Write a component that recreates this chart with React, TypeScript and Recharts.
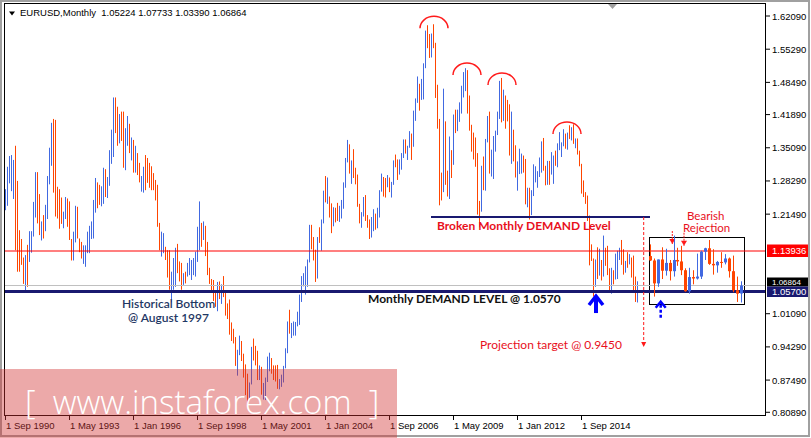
import React from "react";
import {
  ComposedChart,
  Bar,
  XAxis,
  YAxis,
  ReferenceLine,
  ReferenceArea,
  ReferenceDot,
} from "recharts";

// monthly EURUSD bars: [open, high, low, close]
type Ohlc = [number, number, number, number];

const bars1990: Ohlc[] = [
  [1.228, 1.266, 1.223, 1.258], [1.258, 1.312, 1.232, 1.3], [1.29, 1.334, 1.278, 1.325], [1.3, 1.336, 1.262, 1.32],
];
const bars1991: Ohlc[] = [
  [1.26, 1.326, 1.246, 1.318], [1.32, 1.355, 1.141, 1.15], [1.25, 1.283, 1.097, 1.11], [1.17, 1.182, 1.097, 1.11],
  [1.16, 1.164, 1.111, 1.12], [1.12, 1.126, 1.072, 1.08], [1.07, 1.131, 1.059, 1.12], [1.14, 1.152, 1.066, 1.08],
  [1.12, 1.18, 1.117, 1.17], [1.14, 1.18, 1.136, 1.17], [1.175, 1.24, 1.169, 1.23], [1.215, 1.301, 1.208, 1.295],
];
const bars1992: Ohlc[] = [
  [1.295, 1.301, 1.196, 1.205], [1.25, 1.256, 1.172, 1.18], [1.165, 1.2, 1.161, 1.195], [1.205, 1.213, 1.165, 1.172],
  [1.182, 1.234, 1.18, 1.228], [1.21, 1.293, 1.205, 1.285], [1.28, 1.351, 1.276, 1.345], [1.32, 1.402, 1.314, 1.395],
  [1.395, 1.41, 1.259, 1.27], [1.39, 1.408, 1.21, 1.22], [1.265, 1.271, 1.206, 1.215], [1.26, 1.266, 1.185, 1.195],
];
const bars1993: Ohlc[] = [
  [1.24, 1.249, 1.195, 1.2], [1.19, 1.22, 1.186, 1.215], [1.21, 1.25, 1.205, 1.245], [1.24, 1.247, 1.189, 1.195],
  [1.235, 1.241, 1.162, 1.17], [1.16, 1.164, 1.12, 1.125], [1.125, 1.179, 1.12, 1.172], [1.165, 1.232, 1.157, 1.225],
  [1.225, 1.23, 1.165, 1.172], [1.162, 1.165, 1.137, 1.14], [1.155, 1.158, 1.124, 1.128], [1.118, 1.151, 1.113, 1.145],
];
const bars1994: Ohlc[] = [
  [1.112, 1.151, 1.107, 1.146], [1.138, 1.179, 1.135, 1.174], [1.14, 1.191, 1.135, 1.186], [1.168, 1.2, 1.164, 1.196],
  [1.17, 1.244, 1.165, 1.238], [1.222, 1.289, 1.218, 1.284], [1.276, 1.28, 1.227, 1.232], [1.27, 1.275, 1.234, 1.24],
  [1.236, 1.272, 1.231, 1.266], [1.262, 1.31, 1.236, 1.3], [1.3, 1.307, 1.25, 1.258], [1.252, 1.291, 1.248, 1.285],
];
const bars1995: Ohlc[] = [
  [1.28, 1.346, 1.273, 1.34], [1.335, 1.388, 1.318, 1.38], [1.38, 1.454, 1.332, 1.44], [1.44, 1.454, 1.381, 1.395],
  [1.425, 1.435, 1.355, 1.365], [1.365, 1.42, 1.36, 1.41], [1.415, 1.425, 1.365, 1.38], [1.415, 1.425, 1.31, 1.32],
  [1.315, 1.391, 1.305, 1.38], [1.365, 1.416, 1.355, 1.405], [1.395, 1.4, 1.34, 1.35], [1.33, 1.372, 1.325, 1.365],
];
const bars1996: Ohlc[] = [
  [1.36, 1.367, 1.3, 1.31], [1.305, 1.355, 1.3, 1.345], [1.335, 1.34, 1.295, 1.3], [1.315, 1.32, 1.28, 1.285],
  [1.265, 1.293, 1.261, 1.288], [1.262, 1.312, 1.259, 1.305], [1.33, 1.336, 1.264, 1.272], [1.325, 1.33, 1.279, 1.285],
  [1.315, 1.32, 1.269, 1.275], [1.31, 1.313, 1.264, 1.27], [1.295, 1.299, 1.264, 1.268], [1.28, 1.285, 1.243, 1.248],
];
const bars1997: Ohlc[] = [
  [1.27, 1.275, 1.189, 1.195], [1.192, 1.197, 1.141, 1.146], [1.14, 1.179, 1.128, 1.172], [1.14, 1.176, 1.135, 1.17],
  [1.145, 1.148, 1.121, 1.125], [1.135, 1.141, 1.085, 1.09], [1.135, 1.141, 1.06, 1.066], [1.06, 1.097, 1.034, 1.09],
  [1.066, 1.125, 1.06, 1.118], [1.072, 1.146, 1.066, 1.14], [1.15, 1.154, 1.094, 1.1], [1.115, 1.118, 1.077, 1.082],
];
const bars1998: Ohlc[] = [
  [1.11, 1.115, 1.06, 1.066], [1.072, 1.094, 1.07, 1.09], [1.095, 1.097, 1.073, 1.076], [1.089, 1.115, 1.087, 1.11],
  [1.092, 1.125, 1.09, 1.12], [1.083, 1.121, 1.08, 1.116], [1.092, 1.125, 1.09, 1.12], [1.09, 1.138, 1.087, 1.133],
  [1.12, 1.189, 1.117, 1.182], [1.146, 1.241, 1.141, 1.23], [1.195, 1.197, 1.148, 1.152], [1.165, 1.2, 1.162, 1.195],
];
const bars1999: Ohlc[] = [
  [1.174, 1.191, 1.129, 1.158], [1.158, 1.158, 1.09, 1.098], [1.098, 1.105, 1.072, 1.078], [1.078, 1.082, 1.054, 1.058],
  [1.058, 1.08, 1.037, 1.042], [1.042, 1.054, 1.025, 1.035], [1.035, 1.076, 1.016, 1.069], [1.069, 1.077, 1.041, 1.06],
  [1.06, 1.071, 1.031, 1.068], [1.068, 1.088, 1.045, 1.056], [1.056, 1.058, 1.007, 1.01], [1.01, 1.032, 1.0, 1.007],
];
const bars2000: Ohlc[] = [
  [1.007, 1.04, 0.968, 0.971], [0.971, 0.993, 0.955, 0.962], [0.962, 0.98, 0.95, 0.958], [0.958, 0.963, 0.904, 0.912],
  [0.912, 0.937, 0.884, 0.933], [0.933, 0.966, 0.926, 0.953], [0.953, 0.955, 0.914, 0.922], [0.922, 0.929, 0.88, 0.887],
  [0.887, 0.907, 0.844, 0.883], [0.883, 0.888, 0.823, 0.85], [0.85, 0.87, 0.838, 0.868], [0.868, 0.943, 0.866, 0.94],
];
const bars2001: Ohlc[] = [
  [0.94, 0.96, 0.915, 0.935], [0.935, 0.945, 0.905, 0.922], [0.922, 0.935, 0.875, 0.878], [0.878, 0.905, 0.875, 0.888],
  [0.888, 0.902, 0.845, 0.846], [0.846, 0.869, 0.835, 0.849], [0.849, 0.88, 0.834, 0.877], [0.877, 0.923, 0.871, 0.911],
  [0.911, 0.931, 0.893, 0.913], [0.913, 0.92, 0.888, 0.902], [0.902, 0.905, 0.875, 0.891], [0.891, 0.905, 0.872, 0.89],
];
const bars2002: Ohlc[] = [
  [0.89, 0.906, 0.857, 0.86], [0.86, 0.877, 0.856, 0.87], [0.87, 0.886, 0.861, 0.872], [0.872, 0.904, 0.87, 0.902],
  [0.902, 0.94, 0.899, 0.934], [0.934, 0.995, 0.93, 0.992], [0.992, 1.019, 0.97, 0.98], [0.98, 0.992, 0.961, 0.982],
  [0.982, 0.995, 0.966, 0.987], [0.987, 0.994, 0.966, 0.988], [0.988, 1.015, 0.985, 0.992], [0.992, 1.05, 0.988, 1.049],
];
const bars2003: Ohlc[] = [
  [1.049, 1.088, 1.035, 1.073], [1.073, 1.094, 1.067, 1.079], [1.079, 1.108, 1.05, 1.091], [1.091, 1.122, 1.066, 1.117],
  [1.117, 1.193, 1.116, 1.18], [1.18, 1.193, 1.143, 1.149], [1.149, 1.168, 1.12, 1.124], [1.124, 1.142, 1.076, 1.098],
  [1.098, 1.168, 1.083, 1.165], [1.165, 1.188, 1.156, 1.16], [1.16, 1.204, 1.14, 1.199], [1.199, 1.263, 1.196, 1.259],
];
const bars2004: Ohlc[] = [
  [1.259, 1.293, 1.239, 1.246], [1.246, 1.29, 1.236, 1.247], [1.247, 1.251, 1.208, 1.231], [1.231, 1.237, 1.176, 1.197],
  [1.197, 1.229, 1.19, 1.219], [1.219, 1.228, 1.198, 1.216], [1.216, 1.238, 1.201, 1.202], [1.202, 1.232, 1.199, 1.217],
  [1.217, 1.244, 1.206, 1.242], [1.242, 1.28, 1.226, 1.277], [1.277, 1.33, 1.269, 1.329], [1.329, 1.367, 1.321, 1.356],
];
const bars2005: Ohlc[] = [
  [1.356, 1.358, 1.298, 1.304], [1.304, 1.325, 1.277, 1.325], [1.325, 1.348, 1.289, 1.296], [1.296, 1.31, 1.276, 1.286],
  [1.286, 1.296, 1.23, 1.231], [1.231, 1.236, 1.196, 1.21], [1.21, 1.219, 1.187, 1.212], [1.212, 1.25, 1.21, 1.233],
  [1.233, 1.254, 1.201, 1.203], [1.203, 1.213, 1.187, 1.199], [1.199, 1.204, 1.164, 1.179], [1.179, 1.209, 1.167, 1.184],
];
const bars2006: Ohlc[] = [
  [1.184, 1.225, 1.18, 1.216], [1.216, 1.216, 1.183, 1.192], [1.192, 1.228, 1.186, 1.211], [1.211, 1.264, 1.208, 1.262],
  [1.262, 1.298, 1.261, 1.282], [1.282, 1.291, 1.251, 1.279], [1.279, 1.289, 1.249, 1.276], [1.276, 1.295, 1.27, 1.281],
  [1.281, 1.29, 1.26, 1.268], [1.268, 1.281, 1.249, 1.276], [1.276, 1.325, 1.275, 1.324], [1.324, 1.337, 1.311, 1.32],
];
const bars2007: Ohlc[] = [
  [1.32, 1.327, 1.285, 1.302], [1.302, 1.327, 1.296, 1.323], [1.323, 1.34, 1.306, 1.336], [1.336, 1.368, 1.33, 1.365],
  [1.365, 1.368, 1.339, 1.345], [1.345, 1.355, 1.326, 1.353], [1.353, 1.385, 1.351, 1.368], [1.368, 1.38, 1.326, 1.363],
  [1.363, 1.427, 1.353, 1.426], [1.426, 1.452, 1.406, 1.449], [1.449, 1.497, 1.443, 1.463], [1.463, 1.482, 1.427, 1.459],
];
const bars2008: Ohlc[] = [
  [1.459, 1.492, 1.449, 1.486], [1.486, 1.524, 1.45, 1.518], [1.518, 1.591, 1.514, 1.579], [1.579, 1.602, 1.555, 1.56],
  [1.56, 1.584, 1.535, 1.554], [1.554, 1.585, 1.536, 1.576], [1.576, 1.604, 1.555, 1.561], [1.561, 1.566, 1.453, 1.467],
  [1.467, 1.48, 1.39, 1.408], [1.408, 1.41, 1.233, 1.273], [1.273, 1.3, 1.243, 1.27], [1.27, 1.472, 1.26, 1.397],
];
const bars2009: Ohlc[] = [
  [1.397, 1.405, 1.275, 1.28], [1.28, 1.304, 1.251, 1.266], [1.266, 1.374, 1.246, 1.325], [1.325, 1.346, 1.289, 1.323],
  [1.323, 1.419, 1.316, 1.415], [1.415, 1.429, 1.381, 1.403], [1.403, 1.429, 1.385, 1.425], [1.425, 1.444, 1.404, 1.433],
  [1.433, 1.478, 1.421, 1.464], [1.464, 1.506, 1.454, 1.472], [1.472, 1.514, 1.467, 1.5], [1.5, 1.51, 1.421, 1.433],
];
const bars2010: Ohlc[] = [
  [1.433, 1.458, 1.386, 1.386], [1.386, 1.398, 1.343, 1.363], [1.363, 1.382, 1.327, 1.351], [1.351, 1.372, 1.312, 1.329],
  [1.329, 1.34, 1.214, 1.227], [1.227, 1.242, 1.188, 1.223], [1.223, 1.314, 1.22, 1.305], [1.305, 1.333, 1.264, 1.269],
  [1.269, 1.369, 1.263, 1.362], [1.362, 1.416, 1.362, 1.393], [1.393, 1.425, 1.298, 1.3], [1.3, 1.347, 1.292, 1.338],
];
const bars2011: Ohlc[] = [
  [1.338, 1.375, 1.287, 1.369], [1.369, 1.386, 1.343, 1.38], [1.38, 1.425, 1.377, 1.416], [1.416, 1.488, 1.41, 1.481],
  [1.481, 1.494, 1.403, 1.439], [1.439, 1.47, 1.406, 1.45], [1.45, 1.458, 1.39, 1.439], [1.439, 1.449, 1.405, 1.438],
  [1.438, 1.44, 1.335, 1.339], [1.339, 1.425, 1.318, 1.387], [1.387, 1.388, 1.323, 1.345], [1.345, 1.356, 1.29, 1.297],
];
const bars2012: Ohlc[] = [
  [1.297, 1.323, 1.263, 1.309], [1.309, 1.349, 1.297, 1.333], [1.333, 1.339, 1.298, 1.334], [1.334, 1.335, 1.3, 1.324],
  [1.324, 1.328, 1.235, 1.237], [1.237, 1.269, 1.229, 1.266], [1.266, 1.269, 1.204, 1.23], [1.23, 1.264, 1.213, 1.257],
  [1.257, 1.317, 1.252, 1.286], [1.286, 1.313, 1.28, 1.296], [1.296, 1.303, 1.269, 1.299], [1.299, 1.331, 1.291, 1.319],
];
const bars2013: Ohlc[] = [
  [1.319, 1.364, 1.3, 1.358], [1.358, 1.371, 1.304, 1.307], [1.307, 1.314, 1.274, 1.282], [1.282, 1.324, 1.275, 1.316],
  [1.316, 1.324, 1.275, 1.299], [1.299, 1.342, 1.296, 1.301], [1.301, 1.335, 1.277, 1.33], [1.33, 1.345, 1.314, 1.322],
  [1.322, 1.36, 1.311, 1.352], [1.352, 1.383, 1.346, 1.358], [1.358, 1.362, 1.332, 1.359], [1.359, 1.389, 1.354, 1.378],
];
const bars2014: Ohlc[] = [
  [1.378, 1.38, 1.349, 1.349], [1.349, 1.382, 1.347, 1.38], [1.38, 1.397, 1.369, 1.377], [1.377, 1.393, 1.366, 1.387],
  [1.387, 1.399, 1.359, 1.363], [1.363, 1.37, 1.35, 1.369], [1.369, 1.37, 1.337, 1.339], [1.339, 1.345, 1.313, 1.313],
  [1.313, 1.318, 1.257, 1.263], [1.263, 1.284, 1.25, 1.252], [1.252, 1.26, 1.236, 1.245], [1.245, 1.253, 1.201, 1.21],
];
const bars2015: Ohlc[] = [
  [1.21, 1.212, 1.11, 1.129], [1.129, 1.153, 1.119, 1.12], [1.12, 1.124, 1.046, 1.073], [1.073, 1.122, 1.066, 1.122],
  [1.122, 1.147, 1.082, 1.099], [1.099, 1.144, 1.089, 1.115], [1.115, 1.121, 1.079, 1.098], [1.098, 1.171, 1.087, 1.121],
  [1.121, 1.146, 1.109, 1.118], [1.118, 1.15, 1.09, 1.1], [1.1, 1.104, 1.056, 1.057], [1.057, 1.105, 1.052, 1.086],
];
const bars2016: Ohlc[] = [
  [1.086, 1.1, 1.071, 1.083], [1.083, 1.134, 1.081, 1.087], [1.087, 1.14, 1.082, 1.138], [1.138, 1.146, 1.121, 1.145],
  [1.145, 1.162, 1.111, 1.113], [1.113, 1.143, 1.091, 1.11], [1.11, 1.119, 1.095, 1.117], [1.117, 1.137, 1.105, 1.116],
  [1.116, 1.133, 1.112, 1.124], [1.124, 1.126, 1.085, 1.098], [1.098, 1.13, 1.055, 1.059], [1.059, 1.087, 1.035, 1.052],
];
const bars2017: Ohlc[] = [[1.05224, 1.07733, 1.0339, 1.06864]];

const yearBlocks = [
  bars1990, bars1991, bars1992, bars1993, bars1994, bars1995, bars1996, bars1997, bars1998, bars1999,
  bars2000, bars2001, bars2002, bars2003, bars2004, bars2005, bars2006, bars2007, bars2008, bars2009,
  bars2010, bars2011, bars2012, bars2013, bars2014, bars2015, bars2016, bars2017,
];

const MONTHS = ["Jan", "Feb", "Mar", "Apr", "May", "Jun", "Jul", "Aug", "Sep", "Oct", "Nov", "Dec"];
const FIRST_YEAR = 1990;
const FIRST_MONTH = 8; // Sep

const timeTicks = [0, 32, 64, 96, 128, 160, 192, 224, 256, 288];
// 1.14690 and 1.07890 sit under the price tags, so they are left out
const priceTicks = [1.6209, 1.5529, 1.4849, 1.4189, 1.3509, 1.2829, 1.2149, 1.0109, 0.9429, 0.8749, 0.8089];

const resistance = 1.13936;
const bidPrice = 1.06864;
const demandLevel = 1.057;
const brokenDemand = 1.209;
const projection = 0.945;
const boxTop = 1.1674;
const boxBottom = 1.0302;

// annotation anchors in (month index, price)
const peakArcs = [
  { i: 214.5, p: 1.5957 },
  { i: 231, p: 1.4999 },
  { i: 248.5, p: 1.4795 },
  { i: 281, p: 1.3791 },
];

const W = 811;
const H = 438;
const PRICE_MIN = 0.8013;
const PRICE_MAX = 1.6455;
const X_MAX = 380.5;
const UP = "#4169e1";
const DOWN = "#ff4500";
const MT_FONT = "'Liberation Sans', Arial, sans-serif";
const NOTE_FONT = "Lato, 'Open Sans', sans-serif";

const allBars: Ohlc[] = yearBlocks.flat();
const rows = allBars.map(([o, h, l, c], i) => ({ i, o, h, l, c, range: [l, h] }));
const insetRows = allBars.slice(-24).map(([o, h, l, c], k) => ({ k, o, h, l, c, range: [l, h] }));

const monthLabel = (i: number) => {
  const m = FIRST_MONTH + i;
  return `1 ${MONTHS[m % 12]} ${FIRST_YEAR + Math.floor(m / 12)}`;
};

const Stick = (props: any) => {
  const { x, y, width, height, payload } = props;
  if (x == null || y == null) return null;
  const top = Math.min(y, y + height);
  const span = Math.max(Math.abs(height), 1);
  const cx = Math.round(x + width / 2);
  return <rect x={cx} y={top} width={1} height={span} fill={payload.c >= payload.o ? UP : DOWN} />;
};

const Candle = (props: any) => {
  const { x, y, width, height, payload } = props;
  if (x == null || y == null) return null;
  const top = Math.min(y, y + height);
  const span = Math.max(Math.abs(height), 1);
  const { o, h, l, c } = payload;
  const toPx = (v: number) => top + ((h - v) / (h - l)) * span;
  const cx = Math.round(x + width / 2);
  const col = c >= o ? UP : DOWN;
  const bTop = toPx(Math.max(o, c));
  const bBot = toPx(Math.min(o, c));
  return (
    <g>
      <rect x={cx} y={top} width={1} height={span} fill={col} />
      <rect x={cx - 1} y={bTop} width={3} height={Math.max(bBot - bTop, 1)} fill={col} />
    </g>
  );
};

const TimeTick = (props: any) => {
  const { x, payload } = props;
  return (
    <g>
      <line x1={x + 0.5} x2={x + 0.5} y1={416} y2={420} stroke="#000" />
      <text x={x + 1} y={429} fontSize={9.5} fontFamily={MT_FONT} fill="#000">
        {monthLabel(payload.value)}
      </text>
    </g>
  );
};

const PriceTick = (props: any) => {
  const { y, payload } = props;
  return (
    <g>
      <line x1={766} x2={770} y1={y} y2={y} stroke="#000" />
      <text x={772} y={y + 3.5} fontSize={9.5} fontFamily={MT_FONT} fill="#000">
        {payload.value.toFixed(5)}
      </text>
    </g>
  );
};

const Arc = (p: any) => (
  <path d={`M${p.cx - 14},${p.cy} A14,12 0 0 1 ${p.cx + 14},${p.cy}`} fill="none" stroke="#ff1a1a" strokeWidth={1.5} />
);

const BlueArrow = (p: any) => (
  <g>
    <line x1={p.cx} x2={p.cx} y1={p.cy + 4} y2={p.cy + 19} stroke="#0000ff" strokeWidth={4} />
    <polyline points={`${p.cx - 7},${p.cy + 11} ${p.cx},${p.cy + 2} ${p.cx + 7},${p.cy + 11}`} fill="none" stroke="#0000ff" strokeWidth={3.5} />
  </g>
);

const DashedArrow = (p: any) => (
  <g>
    <line x1={p.cx} x2={p.cx} y1={p.cy + 4} y2={p.cy + 17} stroke="#0000ff" strokeWidth={2.5} strokeDasharray="3 2" />
    <polyline points={`${p.cx - 5},${p.cy + 7} ${p.cx},${p.cy + 1} ${p.cx + 5},${p.cy + 7}`} fill="none" stroke="#0000ff" strokeWidth={2.5} />
  </g>
);

const RedDownArrow = (p: any) => (
  <g>
    <line x1={p.cx} x2={p.cx} y1={p.cy - 13} y2={p.cy} stroke="#ff1a1a" strokeWidth={1} strokeDasharray="2 1" />
    <polygon points={`${p.cx - 3},${p.cy - 5} ${p.cx + 3},${p.cy - 5} ${p.cx},${p.cy}`} fill="#ff1a1a" />
  </g>
);

const ArrowTip = (p: any) => (
  <polygon points={`${p.cx - 2.5},${p.cy - 5} ${p.cx + 2.5},${p.cy - 5} ${p.cx},${p.cy}`} fill="#ff1a1a" />
);

export default function App() {
  return (
    <div style={{ position: "absolute", left: 0, top: 0, width: W, height: H, background: "#fff", overflow: "hidden" }}>
      <div style={{ position: "absolute", left: 0, top: 0 }}>
        <ComposedChart width={W} height={H} data={rows} margin={{ top: 4, right: 0, bottom: 0, left: 5 }}>
          <XAxis
            type="number"
            dataKey="i"
            domain={[0, X_MAX]}
            ticks={timeTicks}
            interval={0}
            height={22}
            axisLine={false}
            tickLine={false}
            tick={TimeTick}
            allowDataOverflow
          />
          <YAxis
            orientation="right"
            type="number"
            domain={[PRICE_MIN, PRICE_MAX]}
            ticks={priceTicks}
            interval={0}
            width={45}
            axisLine={false}
            tickLine={false}
            tick={PriceTick}
            allowDataOverflow
          />
          <Bar dataKey="range" barSize={1} shape={Stick} isAnimationActive={false} />
          <ReferenceLine y={resistance} stroke="#ff0000" strokeWidth={1.2} />
          <ReferenceLine y={bidPrice} stroke="#c0c0c0" strokeWidth={1} shapeRendering="crispEdges" />
          <ReferenceLine y={demandLevel} stroke="#191970" strokeWidth={3} shapeRendering="crispEdges" />
          <ReferenceLine
            segment={[{ x: 213, y: brokenDemand }, { x: 322.5, y: brokenDemand }]}
            stroke="#191970"
            strokeWidth={2.5}
            shapeRendering="crispEdges"
          />
          <ReferenceLine
            segment={[{ x: 319.35, y: brokenDemand }, { x: 319.35, y: projection }]}
            stroke="#ff1a1a"
            strokeDasharray="3 2"
          />
          <ReferenceDot x={319.35} y={0.9426} r={3} shape={ArrowTip} />
          <ReferenceArea
            x1={322.15}
            x2={369.85}
            y1={boxBottom}
            y2={boxTop}
            fill="none"
            fillOpacity={0}
            stroke="#000"
            strokeWidth={1.2}
            shapeRendering="crispEdges"
          />
          {peakArcs.map((a) => (
            <ReferenceDot key={a.i} x={a.i} y={a.p} r={3} shape={Arc} />
          ))}
          <ReferenceDot x={295.5} y={1.0512} r={3} shape={BlueArrow} />
          <ReferenceDot x={327.85} y={1.0375} r={3} shape={DashedArrow} />
          <ReferenceDot x={333.65} y={1.1537} r={3} shape={RedDownArrow} />
          <ReferenceDot x={339.5} y={1.1502} r={3} shape={RedDownArrow} />
        </ComposedChart>
      </div>
      <div style={{ position: "absolute", left: 0, top: 0 }}>
        <ComposedChart width={W} height={H} data={insetRows} margin={{ top: 4, right: 45, bottom: 22, left: 5 }}>
          <XAxis type="number" dataKey="k" hide domain={[-163.4, 29.3]} allowDataOverflow />
          <YAxis type="number" hide domain={[PRICE_MIN, PRICE_MAX]} allowDataOverflow />
          <Bar dataKey="range" barSize={3} shape={Candle} isAnimationActive={false} />
        </ComposedChart>
      </div>
      <svg width={W} height={H} style={{ position: "absolute", left: 0, top: 0, pointerEvents: "none" }}>
        <rect x={1} y={1} width={808} height={435} fill="none" stroke="#a0a0a0" strokeWidth={2} />
        <rect x={4.5} y={3.5} width={761} height={412} fill="none" stroke="#000" strokeWidth={1} />
        <polygon points="608,4 617,4 612.5,9" fill="#a0a0a0" />
        <polygon points="9,11.5 15,11.5 12,15.5" fill="#000" />
        <text x={20} y={16} fontSize={9.5} fontFamily={MT_FONT} fill="#000" style={{ whiteSpace: "pre" }}>
          {"EURUSD,Monthly  1.05224 1.07733 1.03390 1.06864"}
        </text>

        <rect x={767} y={244.5} width={41} height={12.5} fill="#ff0000" />
        <text x={772} y={254} fontSize={9.5} fontFamily={MT_FONT} fill="#fff">1.13936</text>
        <rect x={767} y={277.5} width={41} height={9} fill="#000" />
        <text x={772} y={285} fontSize={8} fontFamily={MT_FONT} fill="#fff">1.06864</text>
        <rect x={767} y={286.5} width={41} height={10.5} fill="#191970" />
        <text x={772} y={295} fontSize={9.5} fontFamily={MT_FONT} fill="#fff">1.05700</text>

        <text x={437} y={229.5} fontSize={12} fontWeight={700} fontFamily={NOTE_FONT} fill="#e8101c">
          Broken Monthly DEMAND Level
        </text>
        <text x={687} y={219.5} fontSize={11.5} fontFamily={NOTE_FONT} fill="#e8101c">Bearish</text>
        <text x={683} y={232} fontSize={11.5} fontFamily={NOTE_FONT} fill="#e8101c">Rejection</text>
        <text x={368} y={302.5} fontSize={12} fontWeight={700} fontFamily={NOTE_FONT} fill="#111">
          Monthly DEMAND LEVEL @ 1.0570
        </text>
        <text x={122} y={308} fontSize={12} fontWeight={600} fontFamily={NOTE_FONT} fill="#1f3864">Historical Bottom</text>
        <text x={128} y={321.5} fontSize={12} fontWeight={600} fontFamily={NOTE_FONT} fill="#1f3864">@ August 1997</text>
        <text x={480} y={348.5} fontSize={12} fontFamily={NOTE_FONT} fill="#e8101c">Projection target @ 0.9450</text>

        <rect x={0} y={369} width={397} height={69} fill="rgb(210,50,50)" fillOpacity={0.42} />
        <text x={25} y={414} fontSize={33} fontWeight={300} fontFamily="'Open Sans', sans-serif" fill="#fff" style={{ whiteSpace: "pre" }}>
          {"[  www.instaforex.com  ]"}
        </text>
      </svg>
    </div>
  );
}
